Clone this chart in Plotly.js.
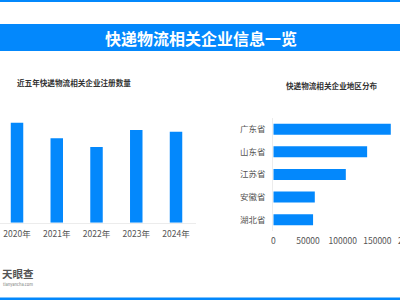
<!DOCTYPE html>
<html><head><meta charset="utf-8">
<script src="https://cdn.plot.ly/plotly-3.0.1.min.js"></script>
<style>html,body{margin:0;padding:0;overflow:hidden;background:#fff;width:400px;height:300px}#c{width:420px;height:300px}</style>
</head><body><div id="c"></div>
<script>
// Data
const years = ['2020年','2021年','2022年','2023年','2024年'];
const yearCounts = [100, 84.4, 75.7, 92.7, 91];
const provinces = ['广东省','山东省','江苏省','安徽省','湖北省'];
const provinceCounts = [169300, 135200, 104500, 59800, 57300];
const xTicks = [0, 50000, 100000, 150000, 200000];

const W = 420, H = 300;
const px = v => v / W, py = v => 1 - v / H;
const blue = '#0388fc';
const font = '"Noto Sans CJK SC", "Noto Sans", sans-serif';

const traces = [
  {type:'bar', x: years, y: yearCounts, xaxis:'x', yaxis:'y', marker:{color: blue}, width:0.314, hoverinfo:'none'},
  {type:'bar', orientation:'h', y: provinces, x: provinceCounts, xaxis:'x2', yaxis:'y2', marker:{color: blue}, width:0.487, hoverinfo:'none'}
];

const layout = {
  width: W, height: H,
  margin:{l:0,r:0,t:0,b:0},
  paper_bgcolor:'#fff', plot_bgcolor:'rgba(0,0,0,0)',
  showlegend:false,
  font:{family:font, color:'#555', size:9},
  xaxis:{domain:[px(0), px(196)], range:[-0.428, 4.503], showline:true, linecolor:'#ececec', linewidth:1,
         ticks:'', tickfont:{size:8.5, color:'#555'}, ticklabelstandoff:3, showgrid:false, zeroline:false, fixedrange:true},
  yaxis:{domain:[py(222.7), py(100)], range:[0, 122.7], visible:false, showgrid:false, zeroline:false},
  xaxis2:{anchor:'y2', domain:[px(273.3), 1], range:[0, (420-273.3)/34.7*50000], tickvals:xTicks,
          ticktext:xTicks.map(String), ticks:'', showgrid:false, zeroline:false, showline:false,
          ticklabeloverflow:'allow', ticklabelstandoff:3, tickfont:{size:8.5, color:'#555'}},
  yaxis2:{anchor:'x2', domain:[py(231), py(117.9)], autorange:'reversed', showline:true, linecolor:'#ececec',
          linewidth:1, ticks:'', showgrid:false, zeroline:false, tickfont:{size:8.5, color:'#555'}, ticklabelstandoff:5},
  shapes:[
    {type:'rect', xref:'paper', yref:'paper', x0:0, x1:px(400), y0:py(2), y1:1, fillcolor:blue, line:{width:0}},
    {type:'rect', xref:'paper', yref:'paper', x0:0, x1:px(400), y0:py(51), y1:py(24), fillcolor:blue, line:{width:0}},
    {type:'rect', xref:'paper', yref:'paper', x0:0, x1:px(400), y0:0, y1:py(297.5), fillcolor:blue, line:{width:0}}
  ],
  annotations:[
    {text:'<b>快递物流相关企业信息一览</b>', xref:'paper', yref:'paper', x:px(201), y:py(38), xanchor:'center', yanchor:'middle',
     showarrow:false, font:{size:16, color:'#fff', family:font}},
    {text:'<b>近五年快递物流相关企业注册数量</b>', xref:'paper', yref:'paper', x:px(15), y:py(83), xanchor:'left', yanchor:'middle',
     showarrow:false, font:{size:7.6, color:'#333', family:font}},
    {text:'<b>快递物流相关企业地区分布</b>', xref:'paper', yref:'paper', x:px(332), y:py(85), xanchor:'center', yanchor:'middle',
     showarrow:false, font:{size:7.6, color:'#333', family:font}},
    {text:'<b>天眼查</b>', xref:'paper', yref:'paper', x:px(0), y:py(273.5), xanchor:'left', yanchor:'middle',
     showarrow:false, font:{size:10.5, color:'#555', family:font}},
    {text:'tianyancha.com', xref:'paper', yref:'paper', x:px(1), y:py(283.5), xanchor:'left', yanchor:'middle',
     showarrow:false, font:{size:4, color:'#777', family:font}}
  ]
};
Plotly.newPlot('c', traces, layout, {displayModeBar:false, staticPlot:true});
</script></body></html>
